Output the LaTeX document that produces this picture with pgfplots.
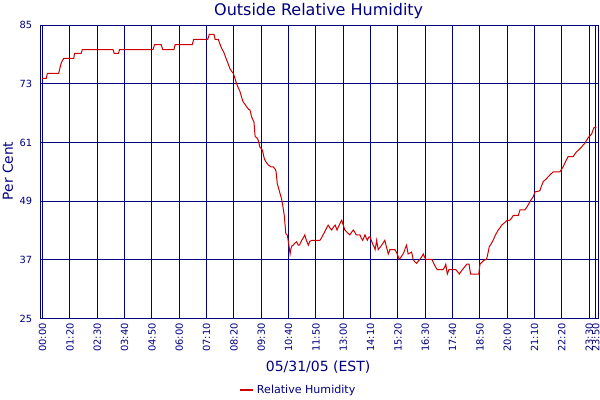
\documentclass[border=0pt]{standalone}
\usepackage{fontspec}
\setmainfont{DejaVu Sans}
\usepackage{pgfplots}
\pgfplotsset{compat=1.18}
\definecolor{navy}{RGB}{0,0,128}
\definecolor{humred}{RGB}{204,0,0}

\begin{document}
\begin{tikzpicture}
% page = 600x400 px at 0.75pt/px; axis box at x 40.7..599, y 25..318.5
\useasboundingbox (-30.5pt,-61.1pt) rectangle (419.5pt,238.9pt);
\begin{axis}[
  width=418.7pt, height=220.1pt,
  scale only axis,
  xmin=-3.3, xmax=1434.4,
  ymin=25, ymax=85,
  axis line style={navy, line width=0.75pt},
  grid=major,
  major grid style={navy, line width=0.75pt},
  major tick length=0pt,
  xtick={1.8,72.2,142.6,212.9,283.3,353.7,424.1,494.5,564.8,635.2,705.6,776.0,846.4,916.7,987.1,1057.5,1127.9,1198.3,1268.6,1339.0,1409.4,1426},
  xticklabels={00:00,01:20,02:30,03:40,04:50,06:00,07:10,08:20,09:30,10:40,11:50,13:00,14:10,15:20,16:30,17:40,18:50,20:00,21:10,22:20,23:30,23:50},
  xticklabel style={rotate=90, anchor=east, font=\fontsize{7.4}{8}\selectfont, text=navy},
  ytick={25,37,49,61,73,85},
  yticklabel style={font=\fontsize{7.4}{8}\selectfont, text=navy, xshift=-2.9pt},
  /pgf/number format/assume math mode=true,
  every axis title shift=0pt,
  title={Outside Relative Humidity},
  title style={at={(axis description cs:0.498,1.049)}, anchor=center, font=\fontsize{12}{14}\selectfont, text=navy},
  xlabel={05/31/05 (EST)},
  xlabel style={at={(axis description cs:0.497,-0.165)}, anchor=center, font=\fontsize{10.5}{12}\selectfont, text=navy},
  ylabel={Per Cent},
  ylabel style={at={(axis description cs:-0.0586,0.5026)}, anchor=center, font=\fontsize{10.3}{12}\selectfont, text=navy},
  legend style={at={(axis description cs:0.462,-0.2436)}, anchor=center, draw=none, fill=none, font=\fontsize{8.3}{10}\selectfont, text=navy},
  legend image code/.code={\draw[#1, line width=1.6pt] (0pt,0pt) -- (9.75pt,0pt);},
]
\addplot[humred, line width=0.75pt, sharp plot] coordinates {
(0,74.1) (11,74.1) (14,75.1) (43,75.1) (46,76.1) (49,77.1) (52,77.6) (56,78.2)
(82,78.2) (84,79.2) (101,79.2) (104,80.0) (183,80.0) (186,79.2) (197,79.2) (200,80.0)
(286,80.0) (290,81.0) (307,81.0) (311,80.0) (340,80.0) (343,81.0) (387,81.0) (391,82.1)
(427,82.1) (431,83.1) (443,83.1) (446,82.1) (454,82.1) (458,81.2) (463,80.2) (468,79.5)
(474,78.2) (479,77.2) (484,76.1) (488,75.6) (493,75.1) (497,74.1) (501,73.1) (505,72.3)
(510,71.4) (514,70.3) (518,69.3) (523,68.8) (527,68.3) (532,67.8) (536,67.6) (540,66.2)
(546,65.2) (549,62.2) (553,62.0) (557,61.5) (561,60.1) (564,59.8) (568,59.4) (571,58.2)
(574,57.4) (579,56.8) (583,56.4) (590,56.0) (596,56.0) (601,55.5) (603,55.0) (606,52.6)
(610,51.5) (613,50.6) (617,49.5) (620,48.2) (624,46.1) (628,42.4) (632,42.0) (634,41.0)
(636,40.0) (639,38.2) (641,39.2) (644,39.9) (647,40.0) (651,40.4) (656,40.7) (660,40.0)
(663,40.0) (669,41.0) (673,41.5) (677,42.1) (681,41.0) (686,40.0) (690,40.8) (695,41.0)
(716,41.0) (720,41.5) (724,42.1) (730,43.0) (737,44.1) (741,43.6) (746,43.1) (750,43.6)
(755,44.1) (760,43.1) (766,44.2) (772,45.1) (776,44.1) (780,43.1) (786,42.6) (793,42.1)
(797,42.6) (802,43.1) (806,42.6) (809,42.1) (819,42.1) (822,41.5) (826,41.0) (829,41.5)
(832,42.1) (835,41.5) (838,41.0) (842,41.7) (845,41.7) (849,40.8) (853,40.0) (856,39.6)
(858,39.1) (860,40.0) (862,41.0) (864,40.0) (866,39.1) (870,39.5) (875,40.0) (879,40.5)
(883,41.0) (886,40.0) (889,39.1) (892,38.2) (894,38.6) (896,39.1) (909,39.1) (915,38.2)
(920,37.1) (925,37.6) (930,38.2) (934,38.9) (936,39.5) (939,40.0) (941,39.1) (943,38.2)
(948,38.4) (952,38.6) (956,37.1) (960,36.6) (965,36.3) (969,36.7) (973,37.1) (978,37.6)
(982,38.2) (985,37.6) (988,37.1) (1004,37.1) (1007,36.6) (1010,36.1) (1014,35.5) (1018,35.0)
(1033,35.0) (1037,35.5) (1040,36.1) (1042,35.0) (1044,34.1) (1046,34.5) (1048,35.0) (1066,35.0)
(1071,34.5) (1075,34.1) (1079,34.6) (1083,35.0) (1088,35.5) (1094,36.1) (1100,36.1) (1102,35.0)
(1104,34.1) (1125,34.1) (1128,36.1) (1133,36.5) (1138,36.9) (1145,37.1) (1149,38.5) (1152,39.7)
(1157,40.3) (1162,41.0) (1168,42.1) (1175,43.1) (1180,43.6) (1184,44.1) (1190,44.5) (1197,45.0)
(1205,45.1) (1210,45.6) (1214,46.1) (1227,46.1) (1231,47.2) (1244,47.2) (1248,47.7) (1252,48.2)
(1258,49.1) (1265,49.9) (1270,50.9) (1282,51.1) (1286,52.0) (1291,53.0) (1298,53.5) (1304,54.0)
(1310,54.5) (1317,55.0) (1334,55.0) (1342,56.0) (1348,57.0) (1355,58.1) (1368,58.1) (1372,58.6)
(1377,59.1) (1384,59.6) (1390,60.1) (1394,60.5) (1398,60.8) (1402,61.4) (1407,62.0) (1412,62.4)
(1416,62.8) (1419,63.5) (1422,64.1) (1428,64.1)
};
\addlegendentry{Relative Humidity}
\end{axis}
\end{tikzpicture}
\end{document}
